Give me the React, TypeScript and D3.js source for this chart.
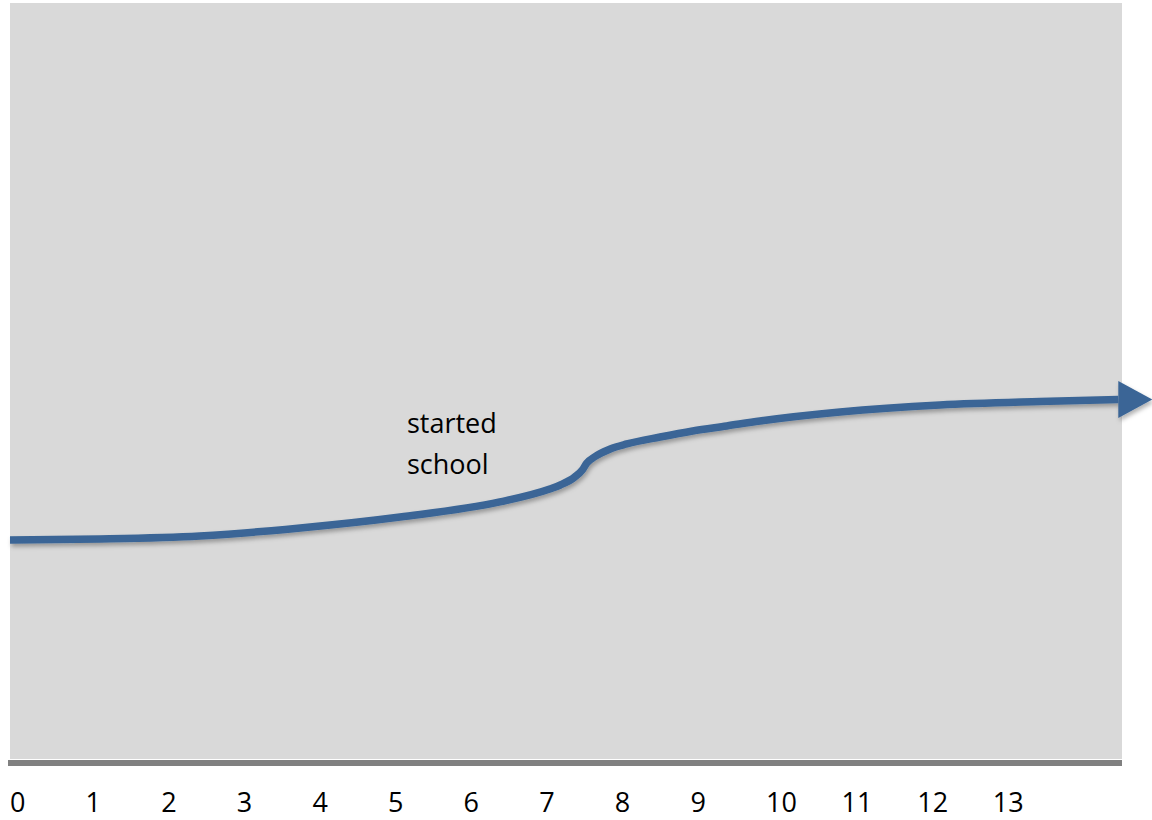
import React from "react";
import * as d3 from "d3";

const ages = [0, 1.19, 2.51, 3.84, 5.16, 6.48, 7.14, 7.28, 7.47, 7.57, 7.63, 7.74, 7.94, 8.16, 8.6, 9.03, 9.48, 9.92, 10.98, 12.3, 13.62, 14.66];
const levels = [28.97, 29.1, 29.5, 30.56, 32.01, 34.0, 35.71, 36.24, 37.3, 38.23, 39.15, 40.01, 41.01, 41.67, 42.59, 43.39, 44.05, 44.71, 45.9, 46.83, 47.29, 47.55];
const tickLabels = ["0", "1", "2", "3", "4", "5", "6", "7", "8", "9", "10", "11", "12", "13"];
const annotationLines = ["started", "school"];
const annotationAge = 5.25;
const annotationLevel = 43.2;

const W = 1152;
const H = 820;
const FONT = "'Open Sans', 'Liberation Sans', sans-serif";

export default function App() {
  const x = d3.scaleLinear().domain([0, 14]).range([10, 10 + 14 * 75.6]);
  const y = d3.scaleLinear().domain([0, 100]).range([759, 3]);
  const pts: [number, number][] = ages.map((a, i) => [x(a), y(levels[i])]);
  const line = d3.line().curve(d3.curveMonotoneX)(pts) || "";
  const last = pts[pts.length - 1];
  const arrow = `M${last[0]},${last[1] - 18.5} L${last[0] + 34},${last[1]} L${last[0]},${last[1] + 18.5} Z`;

  return (
    <div style={{ position: "fixed", left: 0, top: 0, width: W, height: H, background: "#fff" }}>
      <svg width={W} height={H} style={{ display: "block" }}>
        <defs>
          <filter id="sh" x="-5%" y="-50%" width="110%" height="200%">
            <feDropShadow dx="1.5" dy="3" stdDeviation="2" floodColor="#000" floodOpacity="0.3" />
          </filter>
        </defs>
        <rect x={10} y={3} width={1112} height={756} fill="#d9d9d9" />
        <rect x={8} y={760} width={1114} height={6} fill="#808080" />
        {tickLabels.map((t, i) => (
          <text key={t} x={x(i)} y={812} fontFamily={FONT} fontSize={27} fill="#000">
            {t}
          </text>
        ))}
        {annotationLines.map((t, i) => (
          <text key={t} x={x(annotationAge)} y={y(annotationLevel) + 1 + i * 41} fontFamily={FONT} fontSize={27} fill="#000">
            {t}
          </text>
        ))}
        <g filter="url(#sh)">
          <path d={line} fill="none" stroke="#3a6596" strokeWidth={7.5} strokeLinejoin="round" />
          <path d={arrow} fill="#3a6596" />
        </g>
      </svg>
    </div>
  );
}
